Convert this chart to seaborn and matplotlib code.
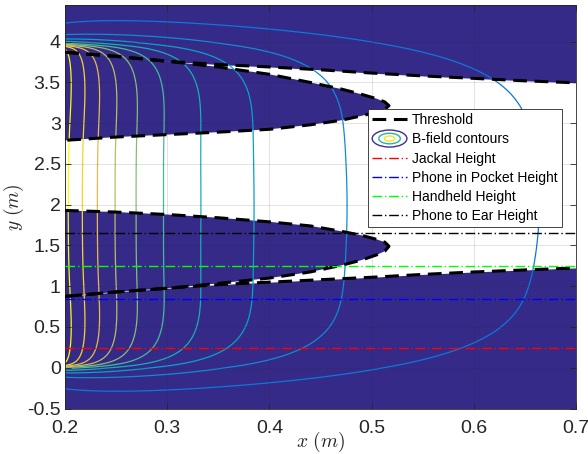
import numpy as np
import pandas as pd
import seaborn as sns
import matplotlib
matplotlib.use('Agg')
import matplotlib.pyplot as plt
from matplotlib.colors import LinearSegmentedColormap, Normalize
from matplotlib.patches import Ellipse
from matplotlib.legend_handler import HandlerBase
from matplotlib.lines import Line2D

# ---- values ----
# x where each B-field contour crosses the mid height (y = 2 m)
contour_x_at_mid = [0.2032, 0.2170, 0.2317, 0.2490, 0.2696, 0.2964, 0.3330, 0.3850, 0.4760, 0.6640]
mid_height = 2.0
# ends of the field source along y
source_bottom = 0.0
source_top = 3.97

# threshold curves
outer_x = [0.20, 0.25, 0.30, 0.35, 0.40, 0.45, 0.50, 0.55, 0.60, 0.65, 0.70]
outer_upper_y = [3.87, 3.82, 3.76, 3.72, 3.69, 3.655, 3.615, 3.58, 3.55, 3.52, 3.495]
outer_lower_y = [0.875, 0.93, 0.975, 1.02, 1.05, 1.08, 1.11, 1.145, 1.175, 1.20, 1.225]

upper_lobe_x = [0.20, 0.25, 0.30, 0.35, 0.40, 0.44, 0.47, 0.49, 0.505, 0.513, 0.517]
upper_lobe_top_y = [3.87, 3.82, 3.76, 3.69, 3.60, 3.50, 3.42, 3.355, 3.30, 3.26, 3.215]
upper_lobe_bottom_y = [2.79, 2.83, 2.86, 2.89, 2.925, 2.98, 3.035, 3.09, 3.135, 3.17, 3.215]

lower_lobe_x = [0.20, 0.25, 0.30, 0.35, 0.40, 0.44, 0.47, 0.49, 0.505, 0.513, 0.517]
lower_lobe_top_y = [1.93, 1.91, 1.88, 1.84, 1.79, 1.74, 1.675, 1.625, 1.575, 1.54, 1.49]
lower_lobe_bottom_y = [0.875, 0.93, 0.975, 1.035, 1.10, 1.175, 1.255, 1.32, 1.385, 1.43, 1.49]

# reference heights
height_names = ['Jackal Height', 'Phone in Pocket Height', 'Handheld Height', 'Phone to Ear Height']
height_values = [0.245, 0.846, 1.243, 1.652]
height_colors = ['#ff0000', '#0000ff', '#00ff00', '#000000']

# ---- style ----
parula = LinearSegmentedColormap.from_list('parula', [
    (0 / 63, (0.2081, 0.1663, 0.5292)),
    (6 / 63, (0.1253, 0.3242, 0.8303)),
    (9 / 63, (0.0060, 0.4086, 0.8828)),
    (15 / 63, (0.0779, 0.5040, 0.8384)),
    (21 / 63, (0.0265, 0.6137, 0.8135)),
    (27 / 63, (0.0590, 0.6838, 0.7254)),
    (33 / 63, (0.2586, 0.7317, 0.5954)),
    (39 / 63, (0.5300, 0.7491, 0.4661)),
    (45 / 63, (0.7525, 0.7384, 0.3768)),
    (51 / 63, (0.9450, 0.7261, 0.2886)),
    (54 / 63, (0.9955, 0.7861, 0.1967)),
    (57 / 63, (0.9697, 0.8481, 0.1475)),
    (63 / 63, (0.9763, 0.9831, 0.0538)),
])
navy = '#352a87'
axis_gray = '#262626'

sns.set_theme(style='white')
plt.rcParams['font.family'] = ['Liberation Sans', 'DejaVu Sans']
plt.rcParams['mathtext.fontset'] = 'cm'


def end_factor(u, x):
    # smooth fall-off of the field near one end of the source
    w_in = 0.012 + 1.1 * (x - 0.2)
    w_out = 0.062 + 1.0 * (x - 0.2)
    blend = 0.5 * (1 + np.tanh(u / 0.03))
    w = blend * w_in + (1 - blend) * w_out
    return 0.5 + np.arctan(u / w) / np.pi


def b_field(x, y):
    u_top = source_top - y
    u_bot = y - source_bottom
    bump = 1 + 0.04 * (np.exp(-(u_top - 0.35) ** 2 / 0.5) + np.exp(-(u_bot - 0.35) ** 2 / 0.5))
    return end_factor(u_top, x) * end_factor(u_bot, x) * bump / x ** 2


xs = np.linspace(0.2, 0.7, 500)
ys = np.linspace(-0.5, 4.45, 900)
X, Y = np.meshgrid(xs, ys)
B = b_field(X, Y)
levels = np.sort(b_field(np.array(contour_x_at_mid), mid_height))
span = levels[-1] - levels[0]
norm = Normalize(vmin=levels[0] - 0.2 / 0.8 * span, vmax=levels[-1])

fig = plt.figure(figsize=(5.88, 4.54), dpi=100)
ax = fig.add_axes([0.1105, 0.1002, 0.8691, 0.8888])
ax.set_facecolor(navy)

# white gap between the outer thresholds, dark lobes inside it
ax.fill_between(outer_x, outer_lower_y, outer_upper_y, color='white', lw=0, zorder=1)
for lx, top, bot in [(upper_lobe_x, upper_lobe_top_y, upper_lobe_bottom_y),
                     (lower_lobe_x, lower_lobe_top_y, lower_lobe_bottom_y)]:
    px = list(lx) + list(lx[::-1])
    py = list(top) + list(bot[::-1])
    ax.fill(px, py, color=navy, lw=0, zorder=1.1)

ax.contour(X, Y, B, levels=levels, cmap=parula, norm=norm, linewidths=0.9, zorder=2)

dash = (0, (4.5, 2.5))
curves = [(outer_x, outer_upper_y), (outer_x, outer_lower_y)]
for lx, top, bot in [(upper_lobe_x, upper_lobe_top_y, upper_lobe_bottom_y),
                     (lower_lobe_x, lower_lobe_top_y, lower_lobe_bottom_y)]:
    curves.append((list(lx) + list(lx[::-1]), list(top) + list(bot[::-1])))
for cx, cy in curves:
    df = pd.DataFrame({'x': cx, 'y': cy})
    sns.lineplot(data=df, x='x', y='y', sort=False, estimator=None, color='black',
                 lw=2.2, linestyle=dash, ax=ax, zorder=3, legend=False)

dashdot = (0, (7, 2, 1, 2))
for h, c in zip(height_values, height_colors):
    ax.axhline(h, color=c, lw=1.0, linestyle=dashdot, zorder=3.5)

ax.set_xlim(0.2, 0.7)
ax.set_ylim(-0.5, 4.45)
ax.set_xticks(np.arange(0.2, 0.71, 0.1))
ax.set_yticks(np.arange(-0.5, 4.01, 0.5))
ax.set_xticklabels(['0.2', '0.3', '0.4', '0.5', '0.6', '0.7'])
ax.set_yticklabels(['-0.5', '0', '0.5', '1', '1.5', '2', '2.5', '3', '3.5', '4'])
ax.set_axisbelow(False)
ax.grid(True, color=axis_gray, alpha=0.15, lw=0.6)
ax.tick_params(direction='in', length=4, width=0.6, color=axis_gray, labelcolor=axis_gray,
               labelsize=14, top=True, right=True, bottom=True, left=True)
ax.tick_params(axis='x', pad=8)
ax.tick_params(axis='y', pad=3)
for s in ax.spines.values():
    s.set_color(axis_gray)
    s.set_linewidth(0.6)
ax.set_xlabel(r'$x\ (m)$', fontsize=14, color=axis_gray, labelpad=-5)
ax.set_ylabel(r'$y\ (m)$', fontsize=14, color=axis_gray, labelpad=1)


class ContourIcon:
    pass


class ContourIconHandler(HandlerBase):
    def create_artists(self, legend, orig_handle, xdescent, ydescent, width, height, fontsize, trans):
        cx = width / 2 - xdescent
        cy = height / 2 - ydescent
        arts = []
        for scale, col in [(1.0, '#3d2d96'), (0.62, '#20b5a8'), (0.3, '#f5e61a')]:
            e = Ellipse((cx, cy), width * scale, height * 1.75 * scale, fill=False,
                        edgecolor=col, lw=1.0, transform=trans)
            arts.append(e)
        return arts


handles = [Line2D([], [], color='black', lw=2.2, linestyle=dash), ContourIcon()]
labels = ['Threshold', 'B-field contours']
for name, c in zip(height_names, height_colors):
    handles.append(Line2D([], [], color=c, lw=1.0, linestyle=dashdot))
    labels.append(name)
leg = ax.legend(handles, labels, loc='upper left', bbox_to_anchor=(0.593, 0.742),
                borderaxespad=0, fontsize=10, handlelength=2.5, handletextpad=0.35,
                labelspacing=0.37, borderpad=0.3, fancybox=False, framealpha=1,
                handler_map={ContourIcon: ContourIconHandler()})
leg.get_frame().set_edgecolor(axis_gray)
leg.get_frame().set_linewidth(0.6)
leg.set_zorder(5)
for t in leg.get_texts():
    t.set_color('black')

fig.savefig('out.png', dpi=100)
